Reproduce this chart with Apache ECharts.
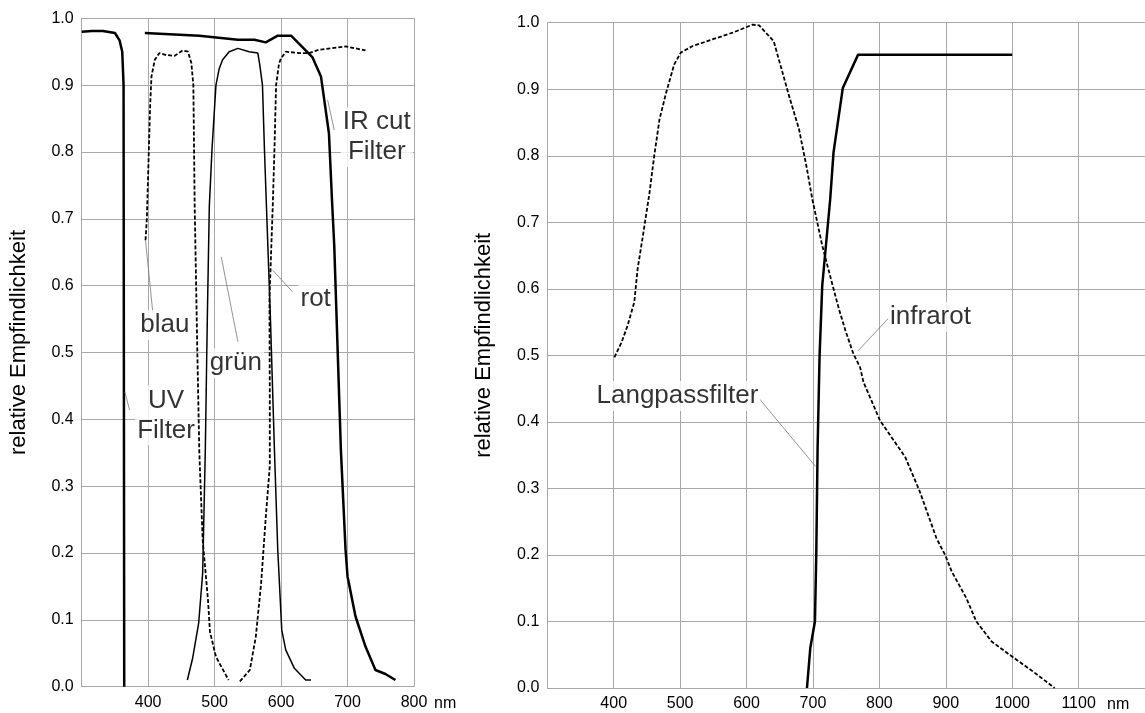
<!DOCTYPE html>
<html>
<head>
<meta charset="utf-8">
<script src="https://cdn.jsdelivr.net/npm/echarts@6/dist/echarts.min.js"></script>
<style>
html, body { margin: 0; padding: 0; background: #fff; }
#main { width: 1145px; height: 713px; }
</style>
</head>
<body>
<div id="main"></div>
<script>
// linke Grafik: Filter und Farbkanaele (nm, relative Empfindlichkeit)
var uvFilter = [[300, 0.98], [315, 0.981], [332, 0.981], [350, 0.978], [357, 0.967], [361, 0.95], [363, 0.9], [364, 0.0]];
var irCutFilter = [[395, 0.978], [477, 0.974], [535, 0.968], [560, 0.968], [577, 0.964], [595, 0.974], [615, 0.974],
    [647, 0.942], [660, 0.913], [672, 0.828], [677, 0.72], [680, 0.66], [690, 0.354], [697, 0.205], [700, 0.165],
    [712, 0.105], [727, 0.06], [742, 0.025], [757, 0.019], [772, 0.01]];
var blau = [[396, 0.668], [398, 0.70], [403, 0.87], [405, 0.913], [410, 0.938], [417, 0.948], [427, 0.945], [440, 0.944],
    [452, 0.952], [460, 0.950], [465, 0.933], [468, 0.90], [470, 0.72], [474, 0.5], [477, 0.35], [482, 0.22],
    [490, 0.13], [493, 0.082], [502, 0.045], [510, 0.03], [521, 0.01]];
var gruen = [[459, 0.01], [467, 0.043], [476, 0.095], [482, 0.17], [486, 0.354], [489, 0.55], [492, 0.718], [496, 0.803],
    [502, 0.90], [507, 0.925], [512, 0.938], [522, 0.95], [535, 0.955], [552, 0.95], [565, 0.948], [568, 0.93],
    [572, 0.90], [575, 0.803], [578, 0.718], [584, 0.55], [590, 0.354], [595, 0.205], [601, 0.085], [607, 0.055],
    [620, 0.0275], [637, 0.01], [645, 0.01]];
var rot = [[538, 0.008], [553, 0.025], [562, 0.075], [570, 0.155], [577, 0.254], [583, 0.33], [583, 0.45], [582.5, 0.58],
    [587.5, 0.72], [590, 0.803], [592.5, 0.90], [597, 0.933], [600, 0.94], [607, 0.95], [627, 0.948], [642, 0.948],
    [657, 0.953], [697, 0.958], [727, 0.952]];

// rechte Grafik: Langpassfilter und Infrarot
var langpass = [[691, 0], [696, 0.06], [703, 0.10], [705, 0.2], [707, 0.36], [710, 0.5], [714, 0.605], [726, 0.735],
    [731, 0.805], [745, 0.902], [768, 0.952], [1000, 0.952]];
var infrarot = [[401, 0.497], [412, 0.52], [421, 0.545], [431, 0.58], [436, 0.63], [444, 0.68], [454, 0.745], [461, 0.80],
    [469, 0.855], [479, 0.895], [491, 0.937], [501, 0.955], [519, 0.965], [579, 0.985], [609, 0.997], [619, 0.996],
    [641, 0.972], [664, 0.89], [679, 0.84], [691, 0.78], [699, 0.735], [714, 0.665], [727, 0.615], [739, 0.57],
    [749, 0.537], [761, 0.502], [771, 0.482], [776, 0.46], [801, 0.402], [839, 0.347], [861, 0.295], [886, 0.225],
    [899, 0.20], [909, 0.175], [931, 0.135], [946, 0.10], [969, 0.07], [996, 0.05], [1031, 0.025], [1064, 0.0]];

// Achsen
var leftX = [300, 800];
var rightX = [300, 1200];
var yRange = [0, 1];
var xUnit = 'nm';
var yName = 'relative Empfindlichkeit';

// Beschriftungen: Text, Position, Hinweislinie (Datenkoordinaten)
var leftNotes = [
    { text: 'blau', at: [425, 0.541], line: [[396, 0.668], [407, 0.56]] },
    { text: 'grün', at: [532, 0.484], line: [[510, 0.643], [535, 0.516]] },
    { text: 'rot', at: [652, 0.58], line: [[587.5, 0.623], [617, 0.591]] },
    { text: 'UV\nFilter', at: [427, 0.406], line: [[365, 0.441], [372, 0.414]] },
    { text: 'IR cut\nFilter', at: [744, 0.822], line: [[670, 0.878], [680, 0.833]] }
];
var rightNotes = [
    { text: 'Langpassfilter', at: [496, 0.439], line: [[619, 0.435], [704, 0.333]] },
    { text: 'infrarot', at: [877, 0.558], line: [[814, 0.556], [768, 0.507]] }
];

var gridColor = '#a8a8a8';
var tickFont = "'Liberation Sans', Arial, sans-serif";
var textFont = "'Liberation Sans', Arial, sans-serif";

function xAxisDef(idx, range, gap) {
    return {
        type: 'value', gridIndex: idx, min: range[0], max: range[1], interval: 100,
        name: xUnit, nameLocation: 'end', nameGap: gap,
        nameTextStyle: { fontFamily: tickFont, fontSize: 16, color: '#000', verticalAlign: 'top', padding: [9, 0, 0, 0] },
        axisLine: { lineStyle: { color: gridColor } },
        axisTick: { show: false },
        axisLabel: { showMinLabel: false, showMaxLabel: idx === 0, fontFamily: tickFont, fontSize: 16, color: '#000', margin: 8,
            formatter: function (v) { return String(v); } },
        splitLine: { lineStyle: { color: gridColor, width: 1 } }
    };
}

function yAxisDef(idx) {
    return {
        type: 'value', gridIndex: idx, min: yRange[0], max: yRange[1], interval: 0.1,
        name: yName, nameLocation: 'middle', nameGap: 52,
        nameTextStyle: { fontFamily: textFont, fontSize: 22, color: '#000', padding: [0, 0, 0, 20] },
        axisLine: { show: true, lineStyle: { color: gridColor } },
        axisTick: { show: false },
        axisLabel: { fontFamily: tickFont, fontSize: 16, color: '#000', margin: 8,
            formatter: function (v) { return v.toFixed(1); } },
        splitLine: { lineStyle: { color: gridColor, width: 1 } }
    };
}

function curve(data, idx, width, dashed) {
    return {
        type: 'line', xAxisIndex: idx, yAxisIndex: idx, data: data,
        showSymbol: false, symbol: 'none', animation: false, z: 3,
        lineStyle: { color: '#000', width: width, type: dashed ? [4, 2] : 'solid' }
    };
}

function notes(list, idx) {
    return {
        type: 'scatter', xAxisIndex: idx, yAxisIndex: idx, symbolSize: 0, z: 5, animation: false,
        data: list.map(function (n) { return { name: n.text, value: n.at }; }),
        label: {
            show: true, position: 'inside', formatter: '{b}',
            fontFamily: textFont, fontSize: 26, lineHeight: 30, color: '#000',
            backgroundColor: '#fff', padding: [0, 2]
        },
        emphasis: { disabled: true },
        markLine: {
            silent: true, symbol: 'none', animation: false,
            label: { show: false },
            lineStyle: { color: '#777', width: 0.8, type: 'solid' },
            data: list.map(function (n) { return [{ coord: n.line[0] }, { coord: n.line[1] }]; })
        }
    };
}

var myChart = echarts.init(document.getElementById('main'));

var option = {
    backgroundColor: '#fff',
    animation: false,
    grid: [
        { left: 81.7, right: 731, top: 18.3, bottom: 26.3 },
        { left: 547.3, right: -2, top: 22.7, bottom: 23 }
    ],
    xAxis: [xAxisDef(0, leftX, 20), xAxisDef(1, rightX, -38)],
    yAxis: [yAxisDef(0), yAxisDef(1)],
    series: [
        curve(uvFilter, 0, 2.5, false),
        curve(irCutFilter, 0, 2.5, false),
        curve(blau, 0, 1.8, true),
        curve(gruen, 0, 1.5, false),
        curve(rot, 0, 1.8, true),
        curve(langpass, 1, 2.5, false),
        curve(infrarot, 1, 1.8, true),
        notes(leftNotes, 0),
        notes(rightNotes, 1)
    ]
};

myChart.setOption(option);
</script>
</body>
</html>
